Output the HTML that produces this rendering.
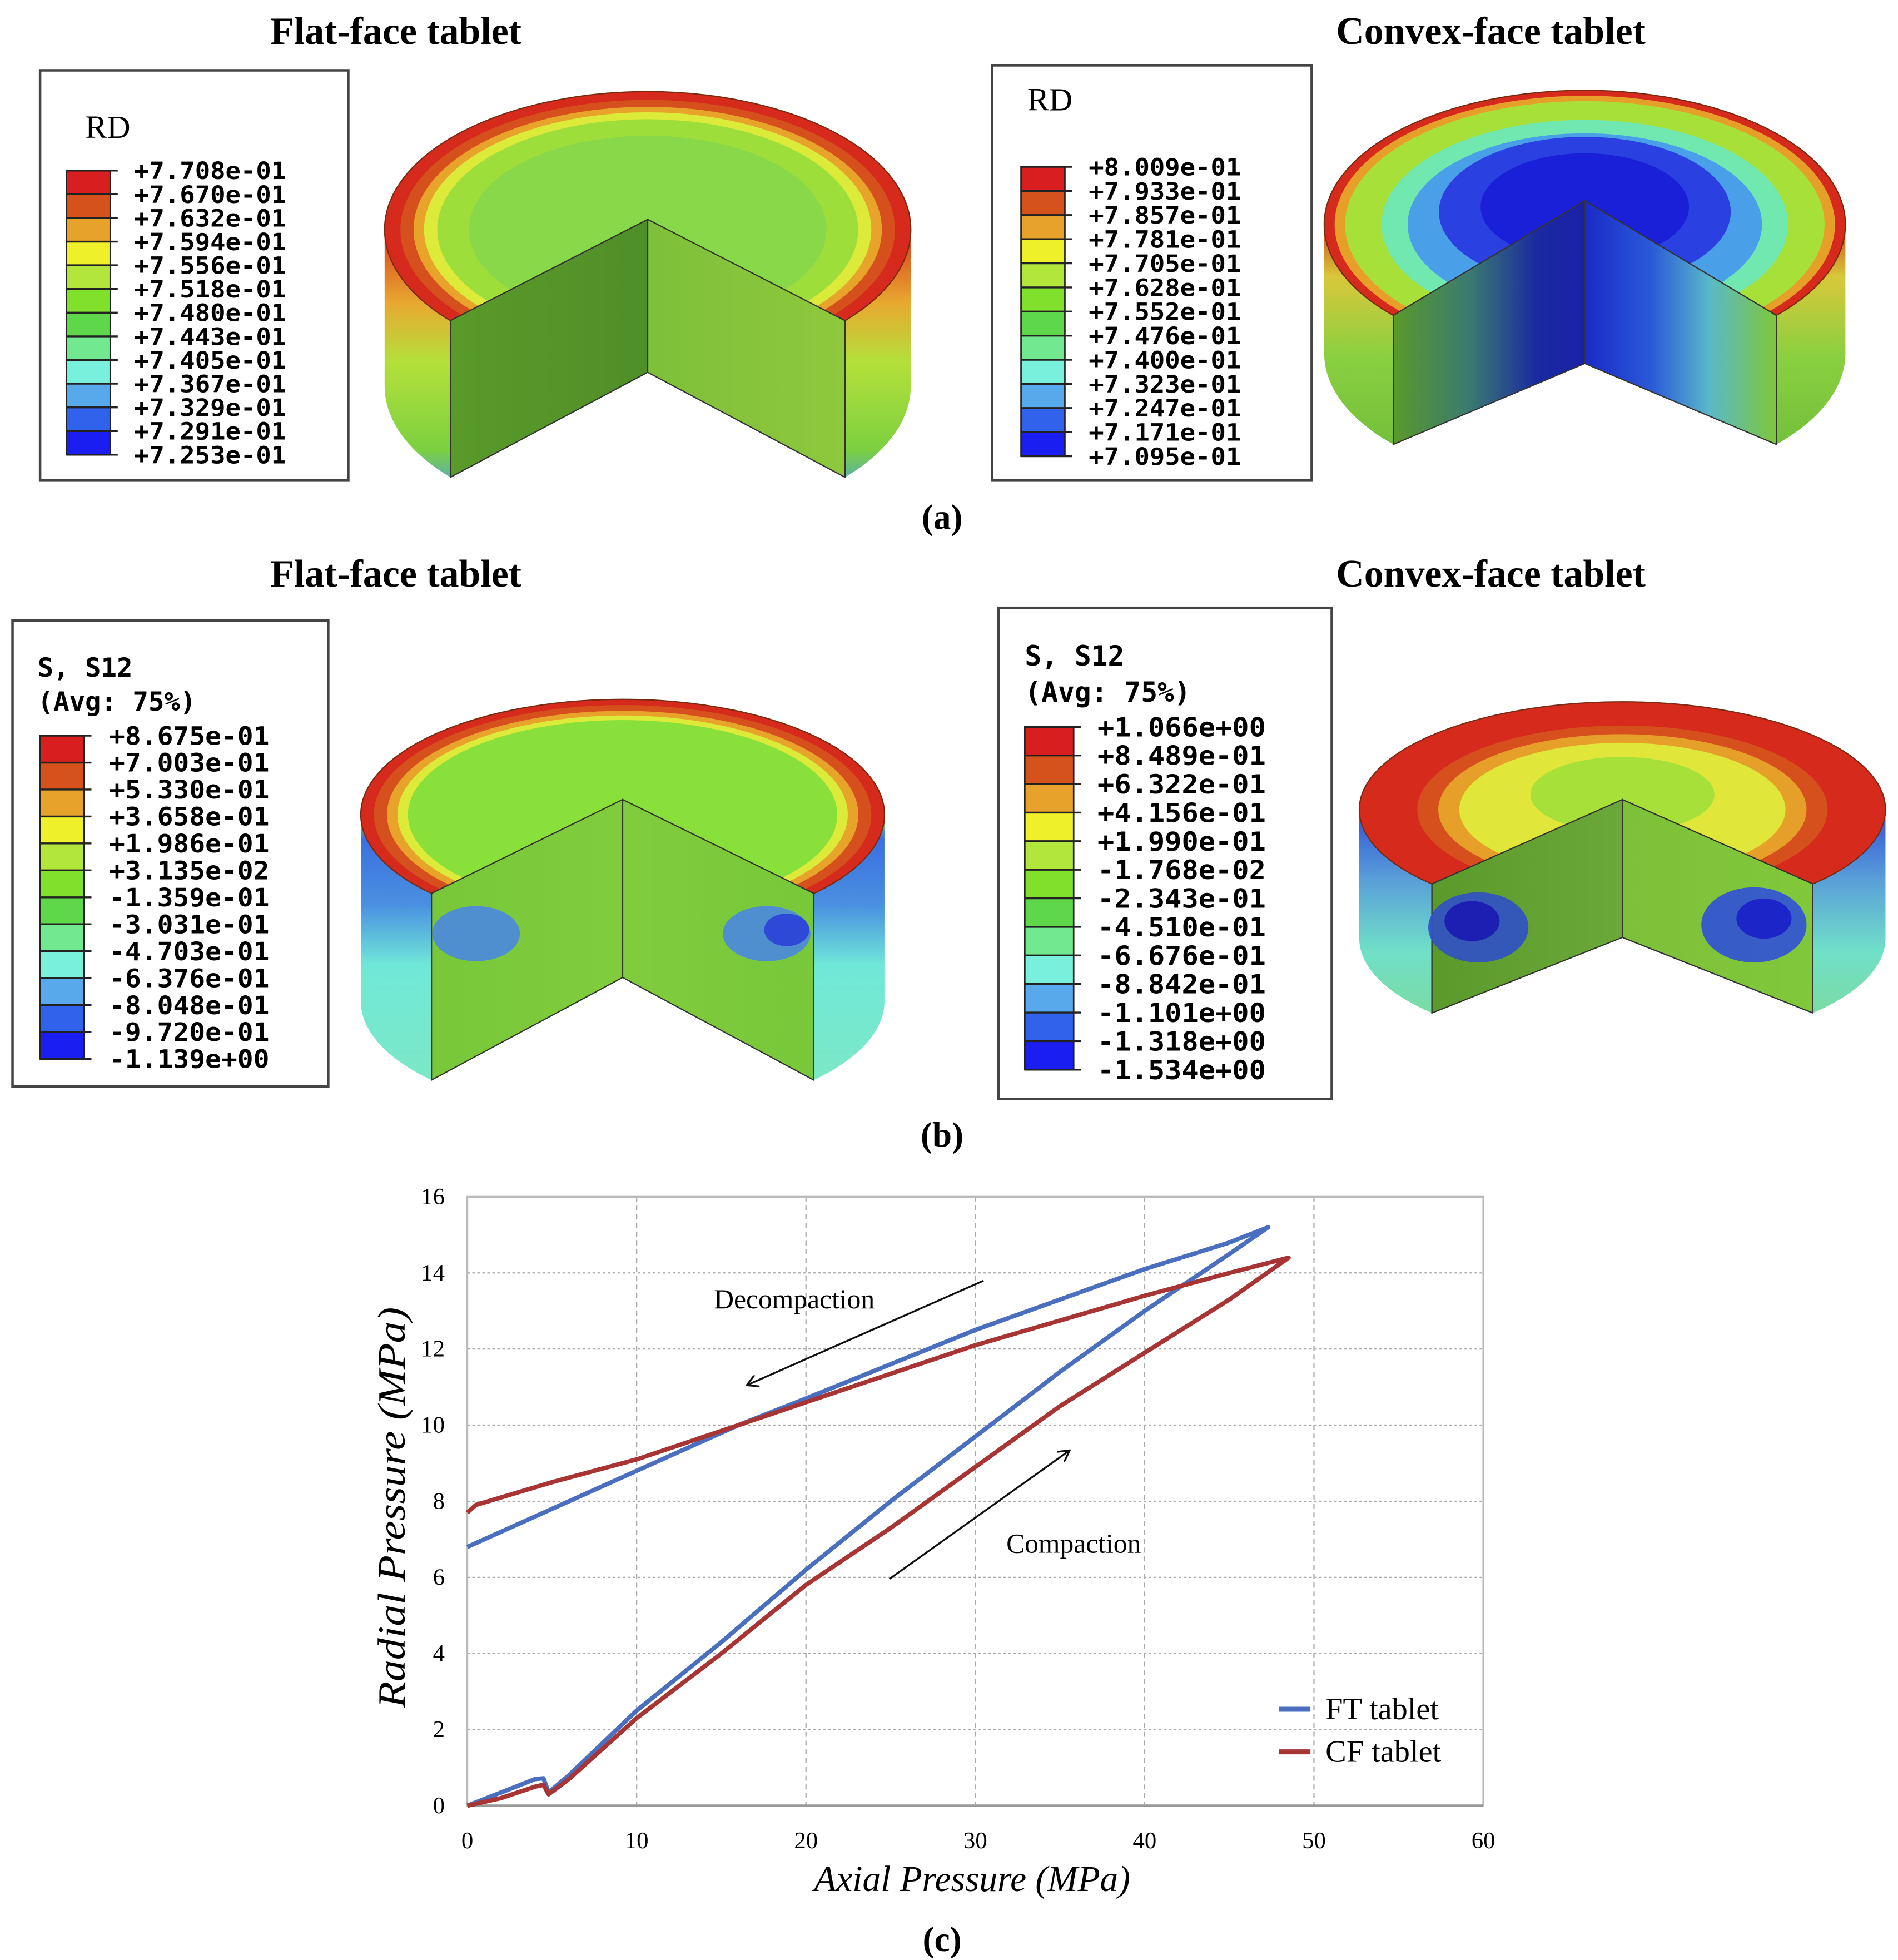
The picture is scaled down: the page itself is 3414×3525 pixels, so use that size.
<!DOCTYPE html>
<html><head><meta charset="utf-8">
<style>
html,body{margin:0;padding:0;background:#fff;}
svg{display:block;}
.t{font-family:"Liberation Serif",serif;}
.m{font-family:"DejaVu Sans Mono","Liberation Mono",monospace;}
</style></head>
<body>
<svg id="fig" width="3414" height="3525" viewBox="0 0 1515 1564" xmlns="http://www.w3.org/2000/svg">
<rect width="1515" height="1564" fill="#fff"/>
<g id="panels"></g>
<g id="chart"></g>
</svg>
<script>
// ---- chart data ----
const xTicks = [0,10,20,30,40,50,60];
const yTicks = [0,2,4,6,8,10,12,14,16];
const ftX = [0,2,4,4.5,4.8,6,10,15,20,25,30,35,40,45,47.3,45,40,30,20,16,10,5,0];
const ftY = [0,0.35,0.7,0.72,0.35,0.8,2.5,4.3,6.2,8.0,9.7,11.4,13.0,14.5,15.2,14.8,14.1,12.5,10.7,10.0,8.8,7.8,6.8];
const cfX = [0,2,4,4.5,4.8,6,10,15,20,25,30,35,40,45,48.5,45,40,30,20,16,10,5,0.5,0];
const cfY = [0,0.2,0.5,0.55,0.3,0.7,2.3,4.0,5.8,7.3,8.9,10.5,11.9,13.3,14.4,14.0,13.4,12.1,10.6,10.0,9.1,8.5,7.9,7.7];
const legendNames = ["FT tablet","CF tablet"];

// ---- legend data ----
const rdFlat = ["+7.708e-01","+7.670e-01","+7.632e-01","+7.594e-01","+7.556e-01","+7.518e-01","+7.480e-01","+7.443e-01","+7.405e-01","+7.367e-01","+7.329e-01","+7.291e-01","+7.253e-01"];
const rdConvex = ["+8.009e-01","+7.933e-01","+7.857e-01","+7.781e-01","+7.705e-01","+7.628e-01","+7.552e-01","+7.476e-01","+7.400e-01","+7.323e-01","+7.247e-01","+7.171e-01","+7.095e-01"];
const sFlat = ["+8.675e-01","+7.003e-01","+5.330e-01","+3.658e-01","+1.986e-01","+3.135e-02","-1.359e-01","-3.031e-01","-4.703e-01","-6.376e-01","-8.048e-01","-9.720e-01","-1.139e+00"];
const sConvex = ["+1.066e+00","+8.489e-01","+6.322e-01","+4.156e-01","+1.990e-01","-1.768e-02","-2.343e-01","-4.510e-01","-6.676e-01","-8.842e-01","-1.101e+00","-1.318e+00","-1.534e+00"];
const cmap = ['#d81e1e','#d6521c','#e6a22a','#eef02a','#b2e63a','#80e02c','#5ed84a','#72e890','#78f0dc','#58a8ec','#3062ec','#1a1ef0'];

const NS="http://www.w3.org/2000/svg";
function mk(parent,tag,attrs,name){const e=document.createElementNS(NS,tag);for(const k in attrs)e.setAttribute(k,attrs[k]);


parent.appendChild(e);return e;}
function txt(parent,x,y,s,size,cls,name,extra){const e=mk(parent,'text',Object.assign({x:x,y:y,'font-size':size,class:cls},extra||{}),name);e.textContent=s;return e;}

const P=document.getElementById('panels');
const defs=mk(P,'defs',{},'defs');

[[316,35,"Flat-face tablet"],[1190,35,"Convex-face tablet"],[316,468,"Flat-face tablet"],[1190,468,"Convex-face tablet"]].forEach((t,i)=>{
 txt(P,t[0],t[1],t[2],31,'t','panel-title',{'text-anchor':'middle','font-weight':'bold'});});
[[752,422,"(a)"],[752,915,"(b)"],[752,1557,"(c)"]].forEach(t=>{txt(P,t[0],t[1],t[2],28,'t','panel-label',{'text-anchor':'middle','font-weight':'bold'});});

function legend(bx,by,bw,bh,heads,headFont,barX,barY,barW,step,labels,labFs,labX){
 const g=mk(P,'g',{},'color-legend');
 mk(g,'rect',{x:bx,y:by,width:bw,height:bh,fill:'#fff',stroke:'#444','stroke-width':2},'legend-box');
 heads.forEach(h=>txt(g,h[0],h[1],h[2],h[3],headFont,'legend-heading',{'font-weight':headFont==='m'?'bold':'normal'}));
 for(let i=0;i<12;i++){mk(g,'rect',{x:barX,y:barY+i*step,width:barW,height:step,fill:cmap[i]},'legend-swatch');}
 for(let i=0;i<13;i++){const y=barY+i*step;
  mk(g,'line',{x1:barX,x2:barX+barW+6,y1:y,y2:y,stroke:'#222','stroke-width':1.5},'legend-tick');
  txt(g,labX,y+labFs*0.36,labels[i],labFs,'m','legend-label',{'font-weight':'bold',textLength:labFs*6.4,lengthAdjust:'spacingAndGlyphs'});}
 mk(g,'rect',{x:barX,y:barY,width:barW,height:step*12,fill:'none',stroke:'#222','stroke-width':1.2},'legend-bar-outline');
}
legend(32,56,246,327,[[68,110,"RD",26]],'t',53,136,35,18.9,rdFlat,19,107);
legend(792,52,255,331,[[820,88,"RD",26]],'t',815,133,35,19.25,rdConvex,19,869);
legend(10,495,252,372,[[30,540,"S, S12",21],[30,567,"(Avg: 75%)",21]],'m',32,587,35,21.5,sFlat,20,87);
legend(797,485,266,392,[[818,531,"S, S12",22],[818,560,"(Avg: 75%)",22]],'m',818,580,39,22.8,sConvex,21,876);

let gid=0;
function tablet(o){
 const g=mk(P,'g',{},'tablet-model');
 const {cx,cy,rx,ry,h,cyC}=o;
 const id='sg'+(gid++);
 const lg=mk(defs,'linearGradient',{id:id,x1:0,y1:0,x2:0,y2:1},'side-gradient');
 o.side.forEach((c,i)=>mk(lg,'stop',{offset:c[0],'stop-color':c[1]},'gradient-stop'));
 mk(g,'path',{d:`M${cx-rx},${cy} L${cx-rx},${cy+h} A${rx},${ry} 0 0 0 ${cx+rx},${cy+h} L${cx+rx},${cy} Z`,fill:`url(#${id})`},'tablet-side');
 o.rings.forEach(r=>mk(g,'ellipse',{cx:cx,cy:cy+(r[2]||0),rx:rx*r[0],ry:ry*r[0],fill:r[1]},'top-contour-ring'));
 mk(g,'ellipse',{cx:cx,cy:cy,rx:rx,ry:ry,fill:'none',stroke:'#7a2a10','stroke-width':1},'top-outline');
 const cb=Math.sqrt(1-o.ca*o.ca);
 const a=rx*o.ca, b=ry*cb;
 const L=[cx-a,cy+b],R=[cx+a,cy+b],C=[cx,cyC];
 const hc=o.hc;
 mk(g,'path',{d:`M${L[0]},${L[1]+h} L${cx},${cyC+hc} L${R[0]},${R[1]+h} L${R[0]},${cy+h+ry+20} L${L[0]},${cy+h+ry+20} Z`,fill:'#fff'},'cutout');
 const lid='lf'+gid,rid='rf'+gid;
 const l1=mk(defs,'linearGradient',{id:lid,x1:0,y1:0,x2:1,y2:0},'face-gradient');
 o.lface.forEach(c=>mk(l1,'stop',{offset:c[0],'stop-color':c[1]},'gradient-stop'));
 const r1=mk(defs,'linearGradient',{id:rid,x1:0,y1:0,x2:1,y2:0},'face-gradient');
 o.rface.forEach(c=>mk(r1,'stop',{offset:c[0],'stop-color':c[1]},'gradient-stop'));
 mk(g,'path',{d:`M${C[0]},${C[1]} L${L[0]},${L[1]} L${L[0]},${L[1]+h} L${cx},${cyC+hc} Z`,fill:`url(#${lid})`,stroke:'#333','stroke-width':1},'left-cut-face');
 mk(g,'path',{d:`M${C[0]},${C[1]} L${R[0]},${R[1]} L${R[0]},${R[1]+h} L${cx},${cyC+hc} Z`,fill:`url(#${rid})`,stroke:'#333','stroke-width':1},'right-cut-face');
 if(o.blobs) o.blobs.forEach(bl=>mk(g,'ellipse',{cx:bl[0],cy:bl[1],rx:bl[2],ry:bl[3],fill:bl[4],opacity:0.9},'contour-blob'));
}
// (a) flat
tablet({cx:517,cy:183,rx:210,ry:110,h:125,cyC:175,hc:122,ca:0.75,
 rings:[[1,'#d62a1c'],[0.94,'#d6501e'],[0.89,'#e8a42a'],[0.85,'#dcea3a'],[0.8,'#9ede3a'],[0.68,'#88d84a']],
 side:[[0,'#d63a1c'],[0.25,'#e8a830'],[0.45,'#b4e03a'],[0.75,'#7cd040'],[0.9,'#4aa0e0'],[1,'#2020e0']],
 lface:[[0,'#5a9a2a'],[1,'#4f8f28']],rface:[[0,'#7ec03a'],[1,'#8ec83c']]});
// (a) convex
tablet({cx:1265,cy:179,rx:208,ry:107,h:103,cyC:160,hc:130,ca:0.735,
 rings:[[1,'#d62a1c'],[0.96,'#e6a02a'],[0.92,'#a8e03a'],[0.78,'#70e8b0'],[0.68,'#4aa0e8'],[0.56,'#2a40e0',-10],[0.4,'#1a20d8',-14]],
 side:[[0,'#c84a1c'],[0.2,'#d8c83a'],[0.5,'#8ad040'],[1,'#6ab838']],
 lface:[[0,'#5a9a2a'],[0.4,'#3a7a70'],[0.75,'#1a2aa0'],[1,'#1a20a8']],rface:[[0,'#1a2ac8'],[0.35,'#2a5ad8'],[0.65,'#5ab8c8'],[1,'#7ec83a']]});
// (b) flat
tablet({cx:497,cy:650,rx:209,ry:92,h:149,cyC:638,hc:142,ca:0.73,
 rings:[[1,'#d62a1c'],[0.95,'#d6501e'],[0.9,'#e8a42a'],[0.86,'#dcea3a'],[0.82,'#8ae03a']],
 side:[[0,'#8ae03a'],[0.08,'#3a70e0'],[0.3,'#4a90e0'],[0.5,'#70e8d8'],[1,'#80e8c0']],
 lface:[[0,'#78c83a'],[1,'#80cc3c']],rface:[[0,'#80cc3c'],[1,'#78c83a']],
 blobs:[[380,745,35,22,'#4a88e0'],[612,745,35,22,'#4a88e0'],[628,742,18,13,'#2a40d8']]});
// (b) convex
tablet({cx:1295,cy:646,rx:210,ry:86,h:103,cyC:638,hc:110,ca:0.724,
 rings:[[1,'#d62a1c'],[0.78,'#d6501e'],[0.7,'#e6a02a'],[0.62,'#e0e63a'],[0.35,'#a8e03a',-12]],
 side:[[0,'#3050d8'],[0.3,'#5aa0d8'],[0.6,'#70e0c8'],[1,'#80d890']],
 lface:[[0,'#5a9a2a'],[1,'#6aa83a']],rface:[[0,'#7ec03a'],[1,'#80c83a']],
 blobs:[[1180,740,40,28,'#3050c8'],[1175,735,22,16,'#1a1ab0'],[1400,738,42,30,'#3050d8'],[1408,733,22,16,'#1a20c8']]});

// ---- chart ----
const G=document.getElementById('chart');
const X0=373,X1=1184,Y0=1441,Y1=955;
const sx=v=>X0+(v-0)/(60-0)*(X1-X0);
const sy=v=>Y0-(v-0)/(16-0)*(Y0-Y1);
xTicks.forEach(t=>{
 if(t>0&&t<60) mk(G,'line',{x1:sx(t),x2:sx(t),y1:Y1,y2:Y0,stroke:'#aaa','stroke-width':1,'stroke-dasharray':'4,3'},'x-gridline');
 txt(G,sx(t),1475,String(t),19,'t','x-tick-label',{'text-anchor':'middle'});});
yTicks.forEach(t=>{
 if(t>0&&t<16) mk(G,'line',{x1:X0,x2:X1,y1:sy(t),y2:sy(t),stroke:'#aaa','stroke-width':1,'stroke-dasharray':'2,2'},'y-gridline');
 txt(G,355,sy(t)+6,String(t),19,'t','y-tick-label',{'text-anchor':'end'});});
mk(G,'rect',{x:X0,y:Y1,width:X1-X0,height:Y0-Y1,fill:'none',stroke:'#bbb','stroke-width':1.5},'plot-frame');
mk(G,'line',{x1:X0,x2:X1,y1:Y0,y2:Y0,stroke:'#999','stroke-width':2},'x-axis');
function series(xs,ys,col,name){
 let d=xs.map((x,i)=>(i?'L':'M')+sx(x).toFixed(1)+','+sy(ys[i]).toFixed(1)).join(' ');
 mk(G,'path',{d:d,fill:'none',stroke:col,'stroke-width':3.5,'stroke-linejoin':'round'},name);
}
series(ftX,ftY,'#4a6fbf','series-ft-tablet');
series(cfX,cfY,'#a83434','series-cf-tablet');
txt(G,634,1044,"Decompaction",22,'t','annotation-decompaction',{'text-anchor':'middle'});
txt(G,857,1239,"Compaction",22,'t','annotation-compaction',{'text-anchor':'middle'});
mk(defs,'marker',{id:'ah',markerWidth:10,markerHeight:10,refX:8,refY:5,orient:'auto',markerUnits:'userSpaceOnUse'},'arrowhead');
const mkr=defs.lastChild; mk(mkr,'path',{d:'M0,0 L9,5 L0,10',fill:'none',stroke:'#111','stroke-width':1.5},'arrowhead-shape');
mk(G,'line',{x1:785,y1:1022,x2:597,y2:1105,stroke:'#111','stroke-width':1.5,'marker-end':'url(#ah)'},'decompaction-arrow');
mk(G,'line',{x1:710,y1:1260,x2:853,y2:1158,stroke:'#111','stroke-width':1.5,'marker-end':'url(#ah)'},'compaction-arrow');
[['#4a6fbf',1370],['#a83434',1404]].forEach((l,i)=>{
 mk(G,'line',{x1:1021,x2:1046,y1:l[1]-6,y2:l[1]-6,stroke:l[0],'stroke-width':4},'legend-line');
 txt(G,1058,l[1]+2,legendNames[i],25,'t','legend-entry');});
txt(G,0,0,"Radial Pressure (MPa)",31,'t','y-axis-title',{'text-anchor':'middle','font-style':'italic',transform:'translate(323,1203) rotate(-90)',textLength:320,lengthAdjust:'spacingAndGlyphs'});
txt(G,776,1509,"Axial Pressure (MPa)",29,'t','x-axis-title',{'text-anchor':'middle','font-style':'italic'});
</script>
</body></html>
